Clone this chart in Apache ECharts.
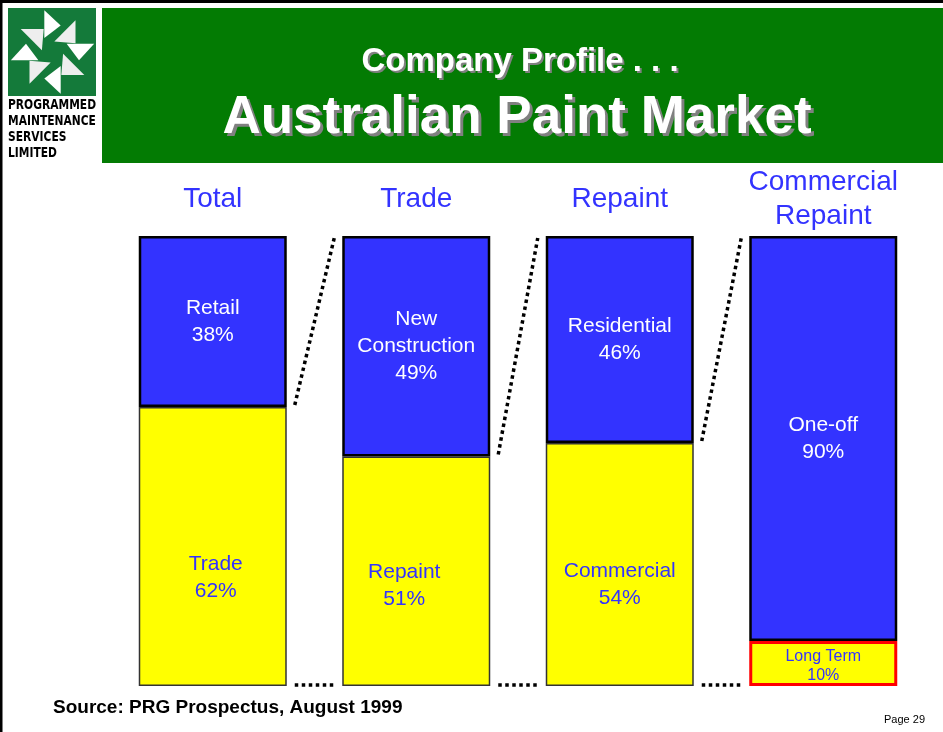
<!DOCTYPE html>
<html>
<head>
<meta charset="utf-8">
<script src="https://cdn.jsdelivr.net/npm/echarts/dist/echarts.min.js"></script>
<style>
html,body{margin:0;padding:0;background:#fff;}
#chart{width:943px;height:732px;}
</style>
</head>
<body>
<div id="chart"></div>
<script>
// ---- data ----
const categories = ['Total', 'Trade', 'Repaint', 'Commercial\nRepaint'];
const upperNames = ['Retail', 'New\nConstruction', 'Residential', 'One-off'];
const upperValues = [38, 49, 46, 90];
const lowerNames = ['Trade', 'Repaint', 'Commercial', 'Long Term'];
const lowerValues = [62, 51, 54, 10];
const titleLine1 = 'Company Profile . . .';
const titleLine2 = 'Australian Paint Market';
const sourceText = 'Source: PRG Prospectus, August 1999';
const pageText = 'Page 29';
const logoLines = ['PROGRAMMED', 'MAINTENANCE', 'SERVICES', 'LIMITED'];

// ---- styling ----
const FONT = '"Liberation Sans", Arial, sans-serif';
const BLUE = '#3333ff';
const YELLOW = '#ffff00';
const BAR_W = 148;
const lowerOffsets = [[3, 31], [-12, 14], [0, 20], [0, 3]];

const chart = echarts.init(document.getElementById('chart'), null, {renderer: 'canvas'});

const lowerData = lowerValues.map((v, i) => {
  const last = i === lowerValues.length - 1;
  return {
    value: v,
    itemStyle: last ? {borderColor: '#ff0000', borderWidth: 3} : {},
    label: {
      offset: lowerOffsets[i],
      fontSize: last ? 16 : 21,
      lineHeight: last ? 19 : 27
    }
  };
});

const connectorData = lowerValues.slice(0, lowerValues.length - 1).map((v, i) => [i, v]);

// logo pinwheel
const C = [52.5, 52];
const S = 1.06;
const armA = [[-7.7, -39.3], [-7.7, -13.3], [7.7, -25]];
const armB = [[21.7, -30], [21.7, -8.3], [1.7, -10]];
function rot(p, k) {
  let [x, y] = p;
  for (let j = 0; j < k; j++) { const t = x; x = -y; y = t; }
  return [C[0] + x * S, C[1] + y * S];
}
const logoShapes = [];
for (let k = 0; k < 4; k++) {
  [armA, armB].forEach((arm, idx) => {
    logoShapes.push({
      type: 'polygon',
      shape: {points: arm.map(p => rot(p, k))},
      style: {fill: idx === 0 ? '#ffffff' : '#eeeeee'}
    });
  });
}

const logoText = logoLines.map((t, i) => ({
  type: 'text',
  x: 8, y: 105 + i * 16.3,
  scaleX: 1.02, scaleY: 1.3,
  style: {text: t, font: 'bold 10.5px "DejaVu Sans", sans-serif', fill: '#000', verticalAlign: 'middle'}
}));

function shadowText(text, x, y, size, off) {
  const base = {font: 'bold ' + size + 'px ' + FONT, align: 'center', verticalAlign: 'middle', text: text};
  return [
    {type: 'text', x: x + off, y: y + off, style: Object.assign({fill: '#808080'}, base)},
    {type: 'text', x: x, y: y, style: Object.assign({fill: '#ffffff'}, base)}
  ];
}

const option = {
  animation: false,
  backgroundColor: '#ffffff',
  grid: {left: 111, right: 18, top: 236, bottom: 46},
  xAxis: {
    type: 'category',
    position: 'top',
    data: categories,
    axisLine: {show: false},
    axisTick: {show: false},
    axisLabel: {
      color: BLUE, fontSize: 28, fontFamily: FONT, lineHeight: 34,
      verticalAlign: 'middle', margin: 37, interval: 0
    }
  },
  yAxis: {type: 'value', min: 0, max: 100, show: false},
  series: [
    {
      type: 'bar', stack: 'm', barWidth: BAR_W,
      data: lowerData,
      itemStyle: {color: YELLOW, borderColor: '#333', borderWidth: 1.5},
      label: {
        show: true, position: 'inside', color: BLUE, fontFamily: FONT,
        formatter: p => lowerNames[p.dataIndex] + '\n' + p.value + '%'
      }
    },
    {
      type: 'bar', stack: 'm', barWidth: BAR_W,
      data: upperValues,
      itemStyle: {color: BLUE, borderColor: '#000', borderWidth: 2.5},
      label: {
        show: true, position: 'inside', color: '#ffffff', fontFamily: FONT,
        fontSize: 21, lineHeight: 27,
        formatter: p => upperNames[p.dataIndex] + '\n' + p.value + '%'
      }
    },
    {
      type: 'custom',
      clip: false,
      z: 10,
      data: connectorData,
      encode: {x: 0, y: 1},
      renderItem: function (params, api) {
        const i = api.value(0);
        const v = api.value(1);
        const half = BAR_W / 2 + 8;
        const a = api.coord([i, v]);
        const b = api.coord([i + 1, 100]);
        const c = api.coord([i, 0]);
        const d = api.coord([i + 1, 0]);
        const st = {stroke: '#000', lineWidth: 3.5, lineDash: [3.5, 3.5], fill: null};
        return {
          type: 'group',
          children: [
            {type: 'line', shape: {x1: a[0] + half, y1: a[1] - 2, x2: b[0] - half, y2: b[1] + 2}, style: st},
            {type: 'line', shape: {x1: c[0] + half, y1: c[1] - 1, x2: d[0] - half, y2: d[1] - 1}, style: st}
          ]
        };
      }
    }
  ],
  graphic: [
    {type: 'rect', shape: {x: 0, y: 0, width: 943, height: 3}, style: {fill: '#000'}},
    {type: 'rect', shape: {x: 0, y: 0, width: 2.5, height: 732}, style: {fill: '#000'}},
    {type: 'rect', shape: {x: 102, y: 8, width: 841, height: 155}, style: {fill: '#037b03'}},
    {type: 'rect', shape: {x: 8, y: 8, width: 88, height: 88}, style: {fill: '#147a3a'}},
    ...logoShapes,
    ...logoText,
    ...shadowText(titleLine1, 520, 62, 33, 2),
    ...shadowText(titleLine2, 517, 118, 53, 3),
    {
      type: 'text', x: 53, y: 708,
      style: {text: sourceText, font: 'bold 19px ' + FONT, fill: '#000', verticalAlign: 'middle'}
    },
    {
      type: 'text', x: 925, y: 720,
      style: {text: pageText, font: '11px ' + FONT, fill: '#000', align: 'right', verticalAlign: 'middle'}
    }
  ]
};
chart.setOption(option);
</script>
</body>
</html>
